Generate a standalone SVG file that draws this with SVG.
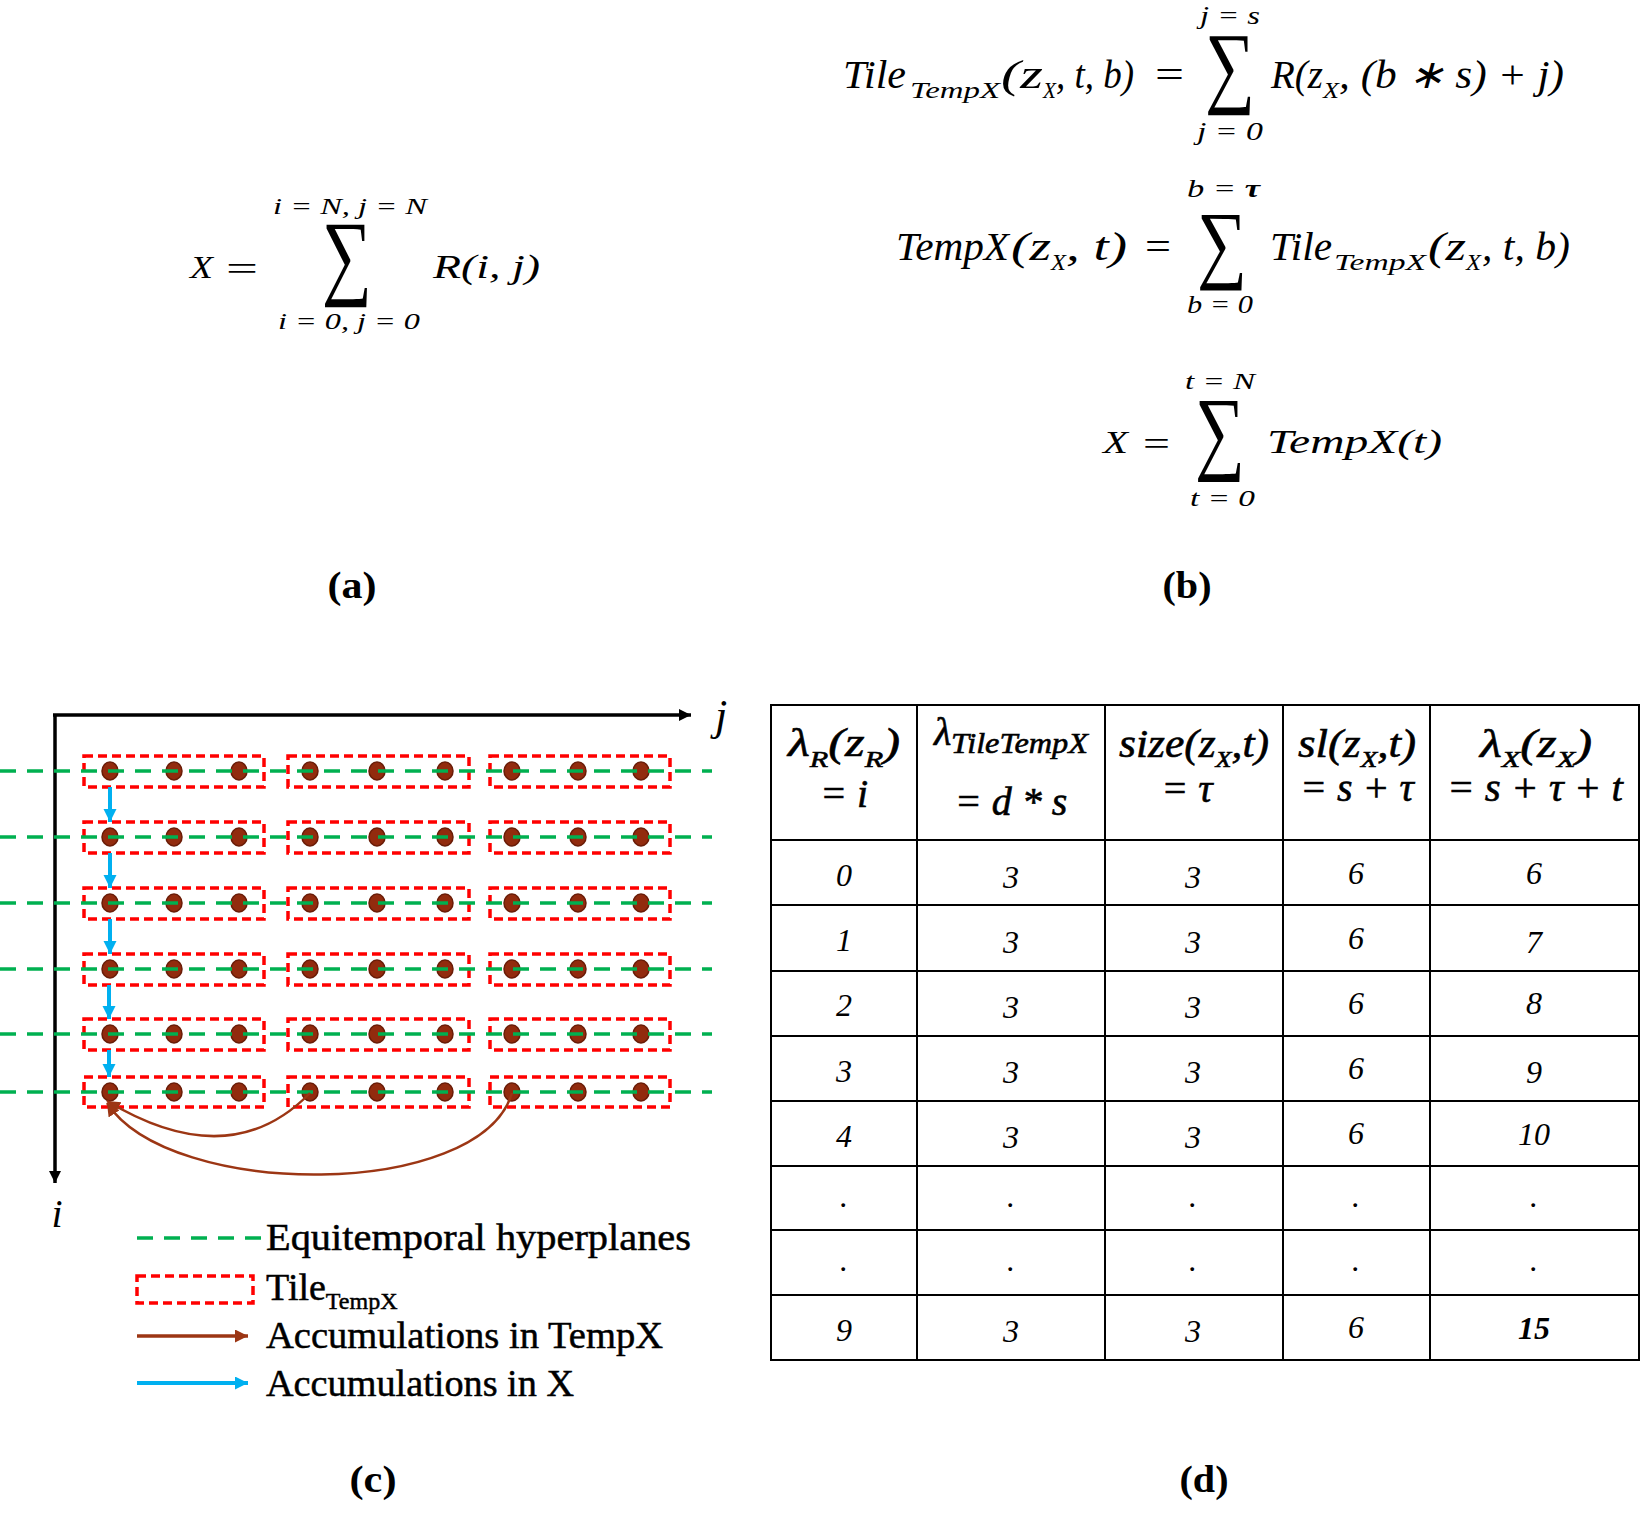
<svg xmlns="http://www.w3.org/2000/svg" width="1642" height="1525" viewBox="0 0 1642 1525">
<style>
.m{font-family:"Liberation Serif",serif;font-style:italic;fill:#000}
.u{font-family:"Liberation Serif",serif;font-style:normal;fill:#000}
.sig{font-family:"Liberation Serif",serif;font-style:normal;fill:#000}
.cap{font-family:"Liberation Serif",serif;font-weight:bold;font-size:37px;text-anchor:middle;fill:#000}
.leg{font-family:"Liberation Serif",serif;font-size:38px;fill:#000;stroke:#000;stroke-width:0.5}
.tile{fill:none;stroke:#FF0000;stroke-width:3.5;stroke-dasharray:9 5}
.eqp{fill:none;stroke:#00B050;stroke-width:3.5;stroke-dasharray:16 11}
.dot{fill:#922B0E;stroke:#6A1C07;stroke-width:1.5}
.grid{stroke:#000;stroke-width:2;fill:none}
.td{font-family:"Liberation Serif",serif;font-style:italic;font-size:32px;text-anchor:middle;fill:#000}
.th{font-family:"Liberation Serif",serif;font-style:italic;font-size:40px;text-anchor:middle;fill:#000;stroke:#000;stroke-width:0.6}
.ths{font-family:"Liberation Serif",serif;font-style:italic;fill:#000;stroke:#000;stroke-width:0.6}
.blue{stroke:#00B0F0;stroke-width:4}
.brown{fill:none;stroke:#9C3614}
</style>
<defs>
<marker id="ab" markerUnits="userSpaceOnUse" markerWidth="14" markerHeight="14" refX="12" refY="6" orient="auto"><path d="M0,0 L12,6 L0,12 z" fill="#000"/></marker>
<marker id="ac" markerUnits="userSpaceOnUse" markerWidth="16" markerHeight="14" refX="13" refY="6.5" orient="auto"><path d="M0,0 L13,6.5 L0,13 z" fill="#00B0F0"/></marker>
<marker id="ar" markerUnits="userSpaceOnUse" markerWidth="16" markerHeight="14" refX="13" refY="6.5" orient="auto"><path d="M0,0 L13,6.5 L0,13 z" fill="#9C3614"/></marker>
</defs>

<!-- (a) equation -->
<g id="eq-a">
<text class="m" x="190" y="278" font-size="32" textLength="23" lengthAdjust="spacingAndGlyphs">X</text>
<text class="u" x="226" y="280" font-size="34" textLength="32" lengthAdjust="spacingAndGlyphs">=</text>
<text class="sig" x="322" y="287" font-size="95" textLength="50" lengthAdjust="spacingAndGlyphs">∑</text>
<text class="m" x="273" y="214" font-size="24" textLength="154" lengthAdjust="spacingAndGlyphs">i = N, j = N</text>
<text class="m" x="278" y="329" font-size="24" textLength="142" lengthAdjust="spacingAndGlyphs">i = 0, j = 0</text>
<text class="m" x="433" y="278" font-size="34" textLength="107" lengthAdjust="spacingAndGlyphs">R(i, j)</text>
</g>

<!-- (b) equations -->
<g id="eq-b1">
<text class="m" x="843" y="88" font-size="40" textLength="63" lengthAdjust="spacingAndGlyphs">Tile</text>
<text class="m" x="910" y="98" font-size="24" textLength="90" lengthAdjust="spacingAndGlyphs">TempX</text>
<text class="m" x="1001" y="88" font-size="40" textLength="42" lengthAdjust="spacingAndGlyphs">(z</text>
<text class="m" x="1043" y="98" font-size="24" textLength="13" lengthAdjust="spacingAndGlyphs">X</text>
<text class="m" x="1056" y="88" font-size="40" textLength="78" lengthAdjust="spacingAndGlyphs">, t, b)</text>
<text class="u" x="1155" y="88" font-size="40" textLength="29" lengthAdjust="spacingAndGlyphs">=</text>
<text class="sig" x="1205" y="96" font-size="91" textLength="50" lengthAdjust="spacingAndGlyphs">∑</text>
<text class="m" x="1200" y="24" font-size="26" textLength="60" lengthAdjust="spacingAndGlyphs">j = s</text>
<text class="m" x="1197" y="140" font-size="26" textLength="66" lengthAdjust="spacingAndGlyphs">j = 0</text>
<text class="m" x="1271" y="88" font-size="40" textLength="52" lengthAdjust="spacingAndGlyphs">R(z</text>
<text class="m" x="1323" y="98" font-size="24" textLength="16" lengthAdjust="spacingAndGlyphs">X</text>
<text class="m" x="1339" y="88" font-size="40" textLength="225" lengthAdjust="spacingAndGlyphs">, (b ∗ s) + j)</text>
</g>
<g id="eq-b2">
<text class="m" x="896" y="260" font-size="40" textLength="113" lengthAdjust="spacingAndGlyphs">TempX</text>
<text class="m" x="1011" y="260" font-size="40" textLength="40" lengthAdjust="spacingAndGlyphs">(z</text>
<text class="m" x="1051" y="270" font-size="24" textLength="15" lengthAdjust="spacingAndGlyphs">X</text>
<text class="m" x="1066" y="260" font-size="40" textLength="61" lengthAdjust="spacingAndGlyphs">, t)</text>
<text class="u" x="1145" y="260" font-size="40" textLength="26" lengthAdjust="spacingAndGlyphs">=</text>
<text class="sig" x="1197" y="272" font-size="87" textLength="50" lengthAdjust="spacingAndGlyphs">∑</text>
<text class="m" x="1187" y="197" font-size="26" textLength="73" lengthAdjust="spacingAndGlyphs">b = <tspan font-weight="bold">τ</tspan></text>
<text class="m" x="1187" y="313" font-size="26" textLength="66" lengthAdjust="spacingAndGlyphs">b = 0</text>
<text class="m" x="1270" y="260" font-size="40" textLength="62" lengthAdjust="spacingAndGlyphs">Tile</text>
<text class="m" x="1334" y="270" font-size="24" textLength="92" lengthAdjust="spacingAndGlyphs">TempX</text>
<text class="m" x="1428" y="260" font-size="40" textLength="38" lengthAdjust="spacingAndGlyphs">(z</text>
<text class="m" x="1466" y="270" font-size="24" textLength="15" lengthAdjust="spacingAndGlyphs">X</text>
<text class="m" x="1482" y="260" font-size="40" textLength="88" lengthAdjust="spacingAndGlyphs">, t, b)</text>
</g>
<g id="eq-b3">
<text class="m" x="1103" y="453" font-size="32" textLength="25" lengthAdjust="spacingAndGlyphs">X</text>
<text class="u" x="1143" y="455" font-size="34" textLength="27" lengthAdjust="spacingAndGlyphs">=</text>
<text class="sig" x="1195" y="462" font-size="93" textLength="50" lengthAdjust="spacingAndGlyphs">∑</text>
<text class="m" x="1185" y="389" font-size="24" textLength="70" lengthAdjust="spacingAndGlyphs">t = N</text>
<text class="m" x="1190" y="506" font-size="24" textLength="65" lengthAdjust="spacingAndGlyphs">t = 0</text>
<text class="m" x="1267" y="453" font-size="34" textLength="175" lengthAdjust="spacingAndGlyphs">TempX(t)</text>
</g>

<!-- captions -->
<g id="captions">
<text class="cap" x="352" y="598" textLength="49" lengthAdjust="spacingAndGlyphs">(a)</text>
<text class="cap" x="1187" y="598" textLength="49" lengthAdjust="spacingAndGlyphs">(b)</text>
<text class="cap" x="373" y="1492" textLength="47" lengthAdjust="spacingAndGlyphs">(c)</text>
<text class="cap" x="1204" y="1492" textLength="49" lengthAdjust="spacingAndGlyphs">(d)</text>
</g>

<!-- (c) diagram -->
<g id="axes">
<line x1="55" y1="714" x2="55" y2="1183" stroke="#000" stroke-width="3.5" marker-end="url(#ab)"/>
<line x1="53" y1="715" x2="691" y2="715" stroke="#000" stroke-width="3.5" marker-end="url(#ab)"/>
<text class="m" x="715" y="730" font-size="44">j</text>
<text class="m" x="57" y="1227" font-size="40" text-anchor="middle">i</text>
</g>

<g id="tiles">
<rect class="tile" x="84" y="756" width="180" height="31"/><rect class="tile" x="288" y="756" width="181" height="31"/><rect class="tile" x="490" y="756" width="180" height="31"/>
<rect class="tile" x="84" y="822" width="180" height="31"/><rect class="tile" x="288" y="822" width="181" height="31"/><rect class="tile" x="490" y="822" width="180" height="31"/>
<rect class="tile" x="84" y="888" width="180" height="31"/><rect class="tile" x="288" y="888" width="181" height="31"/><rect class="tile" x="490" y="888" width="180" height="31"/>
<rect class="tile" x="84" y="954" width="180" height="31"/><rect class="tile" x="288" y="954" width="181" height="31"/><rect class="tile" x="490" y="954" width="180" height="31"/>
<rect class="tile" x="84" y="1019" width="180" height="31"/><rect class="tile" x="288" y="1019" width="181" height="31"/><rect class="tile" x="490" y="1019" width="180" height="31"/>
<rect class="tile" x="84" y="1077" width="180" height="30"/><rect class="tile" x="288" y="1077" width="181" height="30"/><rect class="tile" x="490" y="1077" width="180" height="30"/>
</g>

<g id="points">
<g transform="translate(0,771)"><ellipse class="dot" cx="110" cy="0" rx="8" ry="9"/><ellipse class="dot" cx="174" cy="0" rx="8" ry="9"/><ellipse class="dot" cx="239" cy="0" rx="8" ry="9"/><ellipse class="dot" cx="310" cy="0" rx="8" ry="9"/><ellipse class="dot" cx="377" cy="0" rx="8" ry="9"/><ellipse class="dot" cx="445" cy="0" rx="8" ry="9"/><ellipse class="dot" cx="512" cy="0" rx="8" ry="9"/><ellipse class="dot" cx="578" cy="0" rx="8" ry="9"/><ellipse class="dot" cx="641" cy="0" rx="8" ry="9"/></g>
<g transform="translate(0,837)"><ellipse class="dot" cx="110" cy="0" rx="8" ry="9"/><ellipse class="dot" cx="174" cy="0" rx="8" ry="9"/><ellipse class="dot" cx="239" cy="0" rx="8" ry="9"/><ellipse class="dot" cx="310" cy="0" rx="8" ry="9"/><ellipse class="dot" cx="377" cy="0" rx="8" ry="9"/><ellipse class="dot" cx="445" cy="0" rx="8" ry="9"/><ellipse class="dot" cx="512" cy="0" rx="8" ry="9"/><ellipse class="dot" cx="578" cy="0" rx="8" ry="9"/><ellipse class="dot" cx="641" cy="0" rx="8" ry="9"/></g>
<g transform="translate(0,903)"><ellipse class="dot" cx="110" cy="0" rx="8" ry="9"/><ellipse class="dot" cx="174" cy="0" rx="8" ry="9"/><ellipse class="dot" cx="239" cy="0" rx="8" ry="9"/><ellipse class="dot" cx="310" cy="0" rx="8" ry="9"/><ellipse class="dot" cx="377" cy="0" rx="8" ry="9"/><ellipse class="dot" cx="445" cy="0" rx="8" ry="9"/><ellipse class="dot" cx="512" cy="0" rx="8" ry="9"/><ellipse class="dot" cx="578" cy="0" rx="8" ry="9"/><ellipse class="dot" cx="641" cy="0" rx="8" ry="9"/></g>
<g transform="translate(0,969)"><ellipse class="dot" cx="110" cy="0" rx="8" ry="9"/><ellipse class="dot" cx="174" cy="0" rx="8" ry="9"/><ellipse class="dot" cx="239" cy="0" rx="8" ry="9"/><ellipse class="dot" cx="310" cy="0" rx="8" ry="9"/><ellipse class="dot" cx="377" cy="0" rx="8" ry="9"/><ellipse class="dot" cx="445" cy="0" rx="8" ry="9"/><ellipse class="dot" cx="512" cy="0" rx="8" ry="9"/><ellipse class="dot" cx="578" cy="0" rx="8" ry="9"/><ellipse class="dot" cx="641" cy="0" rx="8" ry="9"/></g>
<g transform="translate(0,1034)"><ellipse class="dot" cx="110" cy="0" rx="8" ry="9"/><ellipse class="dot" cx="174" cy="0" rx="8" ry="9"/><ellipse class="dot" cx="239" cy="0" rx="8" ry="9"/><ellipse class="dot" cx="310" cy="0" rx="8" ry="9"/><ellipse class="dot" cx="377" cy="0" rx="8" ry="9"/><ellipse class="dot" cx="445" cy="0" rx="8" ry="9"/><ellipse class="dot" cx="512" cy="0" rx="8" ry="9"/><ellipse class="dot" cx="578" cy="0" rx="8" ry="9"/><ellipse class="dot" cx="641" cy="0" rx="8" ry="9"/></g>
<g transform="translate(0,1092)"><ellipse class="dot" cx="110" cy="0" rx="8" ry="9"/><ellipse class="dot" cx="174" cy="0" rx="8" ry="9"/><ellipse class="dot" cx="239" cy="0" rx="8" ry="9"/><ellipse class="dot" cx="310" cy="0" rx="8" ry="9"/><ellipse class="dot" cx="377" cy="0" rx="8" ry="9"/><ellipse class="dot" cx="445" cy="0" rx="8" ry="9"/><ellipse class="dot" cx="512" cy="0" rx="8" ry="9"/><ellipse class="dot" cx="578" cy="0" rx="8" ry="9"/><ellipse class="dot" cx="641" cy="0" rx="8" ry="9"/></g>
</g>

<g id="hyperplanes">
<line class="eqp" x1="0" y1="771" x2="712" y2="771"/>
<line class="eqp" x1="0" y1="837" x2="712" y2="837"/>
<line class="eqp" x1="0" y1="903" x2="712" y2="903"/>
<line class="eqp" x1="0" y1="969" x2="712" y2="969"/>
<line class="eqp" x1="0" y1="1034" x2="712" y2="1034"/>
<line class="eqp" x1="0" y1="1092" x2="712" y2="1092"/>
</g>

<g id="connectors">
<line class="blue" x1="110" y1="787" x2="110" y2="822" marker-end="url(#ac)"/>
<line class="blue" x1="110" y1="853" x2="110" y2="888" marker-end="url(#ac)"/>
<line class="blue" x1="110" y1="919" x2="110" y2="954" marker-end="url(#ac)"/>
<line class="blue" x1="109" y1="985" x2="109" y2="1019" marker-end="url(#ac)"/>
<line class="blue" x1="109" y1="1050" x2="109" y2="1077" marker-end="url(#ac)"/>
<path class="brown" d="M310,1093 Q230,1175 107,1101" stroke-width="2.5" marker-end="url(#ar)"/>
<path class="brown" d="M512,1093 C480,1200 170,1200 107,1103" stroke-width="2.5" marker-end="url(#ar)"/>
</g>

<g id="legend">
<line class="eqp" x1="137" y1="1238" x2="264" y2="1238"/>
<text class="leg" x="266" y="1250" textLength="425" lengthAdjust="spacingAndGlyphs">Equitemporal hyperplanes</text>
<rect class="tile" x="137" y="1276" width="116" height="27"/>
<text class="leg" x="266" y="1300">Tile<tspan font-size="24" dy="9">TempX</tspan></text>
<line class="brown" x1="137" y1="1336" x2="248" y2="1336" stroke-width="3.5" marker-end="url(#ar)"/>
<text class="leg" x="266" y="1348" textLength="397" lengthAdjust="spacingAndGlyphs">Accumulations in TempX</text>
<line class="blue" x1="137" y1="1383" x2="248" y2="1383" marker-end="url(#ac)"/>
<text class="leg" x="266" y="1396" textLength="308" lengthAdjust="spacingAndGlyphs">Accumulations in X</text>
</g>

<!-- (d) table -->
<g id="table">
<rect class="grid" x="771" y="705" width="868" height="655"/>
<path class="grid" d="M771,840H1639M771,905H1639M771,971H1639M771,1036H1639M771,1101H1639M771,1166H1639M771,1230H1639M771,1295H1639M917,705V1360M1105,705V1360M1283,705V1360M1430,705V1360"/>
<g id="table-header">
<text class="th" x="844" y="756" textLength="112" lengthAdjust="spacingAndGlyphs">λ<tspan font-size="24" dy="11">R</tspan><tspan dy="-11">(z</tspan><tspan font-size="24" dy="11">R</tspan><tspan dy="-11">)</tspan></text>
<text class="th" x="844" y="807">= i</text>
<text class="ths" x="934" y="745" style="font-size:40px">λ</text>
<text class="ths" x="951" y="753" style="font-size:30px" textLength="137" lengthAdjust="spacingAndGlyphs">TileTempX</text>
<text class="th" x="1011" y="815">= d * s</text>
<text class="th" x="1194" y="757" textLength="150" lengthAdjust="spacingAndGlyphs">size(z<tspan font-size="24" dy="10">X</tspan><tspan dy="-10">,t)</tspan></text>
<text class="th" x="1187" y="802">= τ</text>
<text class="th" x="1357" y="757" textLength="118" lengthAdjust="spacingAndGlyphs">sl(z<tspan font-size="24" dy="10">X</tspan><tspan dy="-10">,t)</tspan></text>
<text class="th" x="1357" y="801">= s + τ</text>
<text class="th" x="1536" y="757" textLength="112" lengthAdjust="spacingAndGlyphs">λ<tspan font-size="24" dy="10">X</tspan><tspan dy="-10">(z</tspan><tspan font-size="24" dy="10">X</tspan><tspan dy="-10">)</tspan></text>
<text class="th" x="1535" y="801" textLength="176" lengthAdjust="spacingAndGlyphs">= s + τ + t</text>
</g>
<g id="table-body">
<text class="td" x="844" y="886">0</text><text class="td" x="1011" y="888">3</text><text class="td" x="1193" y="888">3</text><text class="td" x="1356" y="884">6</text><text class="td" x="1534" y="884">6</text>
<text class="td" x="844" y="951">1</text><text class="td" x="1011" y="953">3</text><text class="td" x="1193" y="953">3</text><text class="td" x="1356" y="949">6</text><text class="td" x="1534" y="953">7</text>
<text class="td" x="844" y="1016">2</text><text class="td" x="1011" y="1018">3</text><text class="td" x="1193" y="1018">3</text><text class="td" x="1356" y="1014">6</text><text class="td" x="1534" y="1014">8</text>
<text class="td" x="844" y="1082">3</text><text class="td" x="1011" y="1083">3</text><text class="td" x="1193" y="1083">3</text><text class="td" x="1356" y="1079">6</text><text class="td" x="1534" y="1083">9</text>
<text class="td" x="844" y="1147">4</text><text class="td" x="1011" y="1148">3</text><text class="td" x="1193" y="1148">3</text><text class="td" x="1356" y="1144">6</text><text class="td" x="1534" y="1145">10</text>
<text class="td" x="844" y="1207">.</text><text class="td" x="1011" y="1207">.</text><text class="td" x="1193" y="1207">.</text><text class="td" x="1356" y="1207">.</text><text class="td" x="1534" y="1207">.</text>
<text class="td" x="844" y="1271">.</text><text class="td" x="1011" y="1271">.</text><text class="td" x="1193" y="1271">.</text><text class="td" x="1356" y="1271">.</text><text class="td" x="1534" y="1271">.</text>
<text class="td" x="844" y="1341">9</text><text class="td" x="1011" y="1342">3</text><text class="td" x="1193" y="1342">3</text><text class="td" x="1356" y="1338">6</text><text class="td" x="1534" y="1339" font-weight="bold">15</text>
</g>
</g>
</svg>
